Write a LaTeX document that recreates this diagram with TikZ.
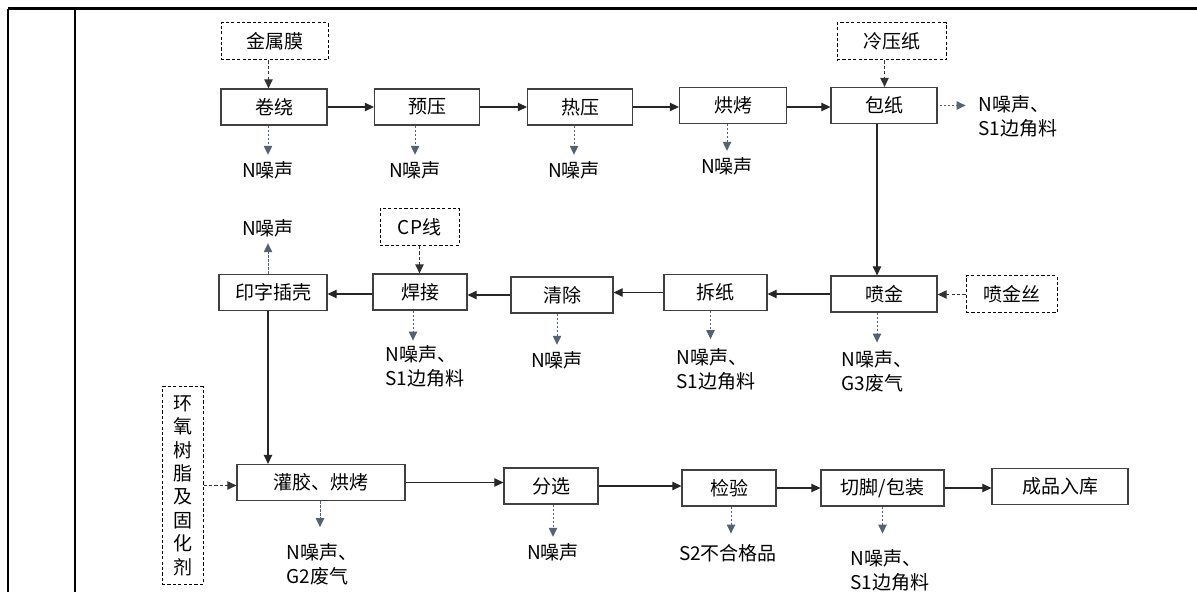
\documentclass[tikz,border=0pt]{standalone}
\usepackage{fontspec}
\setmainfont{Noto Sans CJK SC}
\usetikzlibrary{arrows.meta}

\definecolor{boxgray}{RGB}{64,64,64}
\definecolor{emitgray}{RGB}{84,98,118}

\begin{document}
\begin{tikzpicture}[
        x=0.5pt, y=-0.5pt,
        every node/.style={
            font=\fontsize{9.5}{12}\selectfont,
            inner sep=0pt
        },
        proc/.style={draw=boxgray, line width=0.6pt, minimum height=18pt},
        feed/.style={draw=black, line width=0.5pt, dash pattern=on 1.6pt off 1.1pt, minimum height=18.5pt},
        emis/.style={align=left},
        flow/.style={black!85, line width=0.55pt, -{Triangle[length=4.5pt,width=4.2pt]}},
        feedin/.style={black!80, line width=0.5pt, dash pattern=on 1.6pt off 1.1pt, -{Triangle[length=4.5pt,width=4.2pt]}},
        emit/.style={emitgray, line width=0.5pt, dash pattern=on 1.2pt off 0.8pt, -{Triangle[length=4.5pt,width=4.2pt]}}
    ]
    \useasboundingbox (0,0) rectangle (1197,592);

    % Marco
    \draw[line width=1.5pt] (8,9) -- (1197,9);
    \draw[line width=1pt] (8,9) -- (8,592);
    \draw[line width=1pt] (75,9) -- (75,592);

    % Procesos
    \node[proc, minimum width=53pt]   (wind)   at (274,107)   {卷绕};
    \node[proc, minimum width=52.5pt] (pre)    at (427,107)   {预压};
    \node[proc, minimum width=52.5pt] (hot)    at (580,107)   {热压};
    \node[proc, minimum width=53.5pt] (bake)   at (733,105.5) {烘烤};
    \node[proc, minimum width=53pt]   (wrap)   at (884,105.5) {包纸};
    \node[proc, minimum width=54pt]   (print)  at (273,292.5) {印字插壳};
    \node[proc, minimum width=47pt]   (weld)   at (420,292)   {焊接};
    \node[proc, minimum width=51pt]   (clean)  at (562,295)   {清除};
    \node[proc, minimum width=51.5pt] (unwrap) at (715.5,292.5) {拆纸};
    \node[proc, minimum width=53pt]   (spray)  at (884,294)   {喷金};
    \node[proc, minimum width=84pt]   (pot)    at (321,482.5) {灌胶、烘烤};
    \node[proc, minimum width=47pt]   (sort)   at (551,486)   {分选};
    \node[proc, minimum width=47pt]   (check)  at (729,488)   {检验};
    \node[proc, minimum width=61.5pt] (cut)    at (882.5,488) {切脚/包装};
    \node[proc, minimum width=68pt]   (store)  at (1060,486.5) {成品入库};

    % Materias primas
    \node[feed, minimum width=53.5pt] (film)  at (274.5,41.5) {金属膜};
    \node[feed, minimum width=54.5pt] (paper) at (891.5,41.5) {冷压纸};
    \node[feed, minimum width=39.5pt] (cp)    at (419.5,227)  {CP线};
    \node[feed, minimum width=45.5pt] (wire)  at (1011.5,294.5) {喷金丝};
    \node[feed, minimum width=20.5pt, minimum height=98.5pt, align=center,
          font=\fontsize{9.5}{11.7}\selectfont] (epoxy) at (182.5,485.5)
          {环\\氧\\树\\脂\\及\\固\\化\\剂};

    % Emisiones
    \node (e1)  at (268,170) {N噪声};
    \node (e2)  at (415,170) {N噪声};
    \node (e3)  at (574,170) {N噪声};
    \node (e4)  at (727,166) {N噪声};
    \node[emis] (e5)  at (1018,116) {N噪声、\\S1边角料};
    \node (e6)  at (268,228) {N噪声};
    \node[emis] (e7)  at (425,366) {N噪声、\\S1边角料};
    \node (e8)  at (557,360) {N噪声};
    \node[emis] (e9)  at (716,369) {N噪声、\\S1边角料};
    \node[emis] (e10) at (877,371) {N噪声、\\G3废气};
    \node[emis] (e11) at (322,564) {N噪声、\\G2废气};
    \node (e12) at (553,552) {N噪声};
    \node (e13) at (728,553) {S2不合格品};
    \node[emis] (e14) at (890,570) {N噪声、\\S1边角料};

    % Flujo principal
    \draw[flow] (wind.east) -- (wind.east -| pre.west);
    \draw[flow] (pre.east) -- (pre.east -| hot.west);
    \draw[flow] (hot.east) -- (hot.east -| bake.west);
    \draw[flow] ([yshift=-0.75pt]bake.east) -- ([yshift=-0.75pt]bake.east -| wrap.west);
    \draw[flow] ([xshift=-3.5pt]wrap.south) -- ([xshift=-3.5pt]wrap.south |- spray.north);
    \draw[flow] (spray.west) -- (spray.west -| unwrap.east);
    \draw[flow] (unwrap.west) -- (unwrap.west -| clean.east);
    \draw[flow] (clean.west) -- (clean.west -| weld.east);
    \draw[flow] ([yshift=-1pt]weld.west) -- ([yshift=-1pt]weld.west -| print.east);
    \draw[flow] ([xshift=-2.5pt]print.south) -- ([xshift=-2.5pt]print.south |- pot.north);
    \draw[flow] (pot.east) -- (pot.east -| sort.west);
    \draw[flow] (sort.east) -- (sort.east -| check.west);
    \draw[flow] (check.east) -- (check.east -| cut.west);
    \draw[flow] (cut.east) -- (cut.east -| store.west);

    % Entradas
    \draw[feedin] ([xshift=-3pt]film.south) -- ([xshift=-3pt]film.south |- wind.north);
    \draw[feedin] ([xshift=-3.5pt]paper.south) -- ([xshift=-3.5pt]paper.south |- wrap.north);
    \draw[feedin] (cp.south) -- (cp.south |- weld.north);
    \draw[feedin] (wire.west) -- (wire.west -| spray.east);
    \draw[feedin] (epoxy.east) -- (epoxy.east -| pot.west);

    % Salidas
    \draw[emit] (e1.north |- wind.south) -- ([yshift=3pt]e1.north);
    \draw[emit] (e2.north |- pre.south) -- ([yshift=3pt]e2.north);
    \draw[emit] (e3.north |- hot.south) -- ([yshift=3pt]e3.north);
    \draw[emit] (e4.north |- bake.south) -- ([yshift=3pt]e4.north);
    \draw[emit] ([xshift=1pt]wrap.east) -- ++(26,0);
    \draw[emit] (e6.south |- print.north) -- ([yshift=-3pt]e6.south);
    \draw[emit] ([xshift=-3.5pt]weld.south) -- ++(0,30);
    \draw[emit] (e8.north |- clean.south) -- ([yshift=3pt]e8.north);
    \draw[emit] ([xshift=-2.5pt]unwrap.south) -- ++(0,28);
    \draw[emit] ([xshift=-3.5pt]spray.south) -- ++(0,30);
    \draw[emit] ([xshift=-0.5pt]pot.south) -- ++(0,26);
    \draw[emit] (e12.north |- sort.south) -- ([yshift=3pt]e12.north);
    \draw[emit] ([xshift=1pt]check.south) -- ++(0,27);
    \draw[emit] (cut.south) -- ++(0,27);

\end{tikzpicture}
\end{document}
